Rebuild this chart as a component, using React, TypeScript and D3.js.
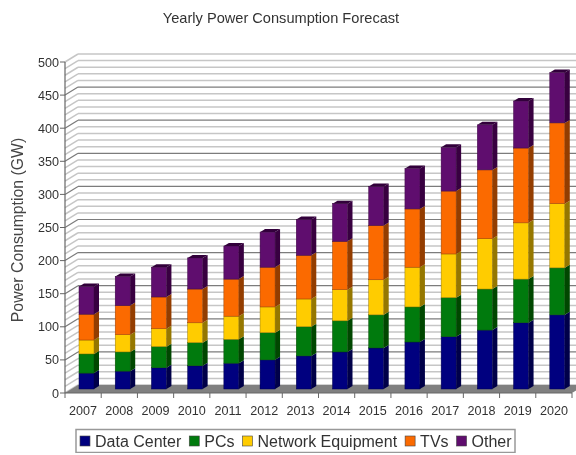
import React from "react";
import * as d3 from "d3";

const years = ["2007","2008","2009","2010","2011","2012","2013","2014","2015","2016","2017","2018","2019","2020"];
const seriesNames = ["Data Center","PCs","Network Equipment","TVs","Other"];
const dataCenter = [24,27,32,35,39,44,50,56,62,71,79,89,100,112];
const pcs = [29,29,32,35,36,41,44,47,50,53,59,62,66,71];
const network = [21,26,27,30,35,39,42,47,53,60,66,76,85,97];
const tvs = [39,44,48,51,56,60,66,73,82,88,95,104,113,122];
const other = [42,44,45,47,50,53,54,57,59,61,66,68,71,76];
const seriesValues = [dataCenter,pcs,network,tvs,other];
const colors = ["#00007f","#057a0a","#ffcc00","#fb6a04","#5f0a6e"];
const yTicks = [0,50,100,150,200,250,300,350,400,450,500];
const gridValues = d3.range(0,501,10);

const W = 576, H = 455;
const FONT = "'Liberation Sans', Arial, sans-serif";
const wallDx = 13, wallDy = -8;
const barInset = 14, barW = 15, sideDx = 5, sideDy = -3, barLift = 4;

const x = d3.scaleBand<string>().domain(years).range([65,572]).padding(0);
const y = d3.scaleLinear().domain([0,500]).range([393,62]);

const rows = years.map((yr,i)=>{
  const r: Record<string,any> = {year:yr};
  seriesNames.forEach((s,j)=>{ r[s]=seriesValues[j][i]; });
  return r;
});
const stacked = d3.stack<any>().keys(seriesNames)(rows);

function measure(t:string,size:number){
  const c = document.createElement("canvas").getContext("2d")!;
  c.font = `${size}px 'Liberation Sans'`;
  return c.measureText(t).width;
}
const poly = (p:[number,number][]) => p.map(q=>q.join(",")).join(" ");
const dark = (c:string,k:number)=> d3.rgb(c).darker(k).formatHex();

export default function App(){
  const xs = x.range();
  const legendSize = 16;
  let lx = 80;
  const legend = seriesNames.map((n,i)=>{
    const e = {n,c:colors[i],sx:lx,tx:lx+15};
    lx += 15 + measure(n,legendSize) + 8;
    return e;
  });
  return (
    <svg width={W} height={H} viewBox={`0 0 ${W} ${H}`} style={{position:"absolute",left:0,top:0,background:"#fff"}} fontFamily={FONT}>
      <defs>
        <filter id="soft" x="0" y="0" width="100%" height="100%"><feGaussianBlur stdDeviation="0.5"/></filter>
      </defs>
      <g filter="url(#soft)">
        <text x={281} y={23} textAnchor="middle" fontSize={14.6} fill="#333">Yearly Power Consumption Forecast</text>
        {gridValues.map(v=>{
          const major = v%50===0 && v!==500 && v!==0;
          const stroke = major ? "#7c7c7c" : "#c6c6c6";
          return <g key={v} stroke={stroke} strokeWidth={major?1.2:1.5} fill="none">
            <line x1={xs[0]} y1={y(v)} x2={xs[0]+wallDx} y2={y(v)+wallDy}/>
            <line x1={xs[0]+wallDx} y1={y(v)+wallDy} x2={W} y2={y(v)+wallDy}/>
          </g>;
        })}
        <polygon fill="#808080" points={poly([[xs[0],y(0)],[xs[0]+wallDx,y(0)+wallDy],[xs[1]+wallDx,y(0)+wallDy],[xs[1],y(0)]])}/>
        {years.map(yr=>{
          const bx = x(yr)!+barInset;
          return <g key={yr}>
            {stacked.map((s,j)=>{
              const d = s[years.indexOf(yr)];
              const y1 = y(d[1])-barLift, y0 = y(d[0])-barLift;
              const c = colors[j];
              const isTop = j===stacked.length-1;
              return <g key={j}>
                <rect x={bx} y={y1} width={barW} height={y0-y1} fill={c} stroke={dark(c,1.4)} strokeWidth={0.5}/>
                <polygon fill={dark(c,1.5)} points={poly([[bx+barW,y1],[bx+barW+sideDx,y1+sideDy],[bx+barW+sideDx,y0+sideDy],[bx+barW,y0]])}/>
                {isTop && <polygon fill={dark(c,1.8)} points={poly([[bx,y1],[bx+sideDx,y1+sideDy],[bx+barW+sideDx,y1+sideDy],[bx+barW,y1]])}/>}
              </g>;
            })}
          </g>;
        })}
        <line x1={xs[0]} y1={y(500)} x2={xs[0]} y2={y(0)} stroke="#666" strokeWidth={1.2}/>
        <line x1={xs[0]} y1={y(0)} x2={xs[1]} y2={y(0)} stroke="#666" strokeWidth={1.2}/>
        {yTicks.map(v=><g key={v}>
          <line x1={xs[0]-5} y1={y(v)} x2={xs[0]} y2={y(v)} stroke="#666"/>
          <text x={xs[0]-6} y={y(v)+4.5} textAnchor="end" fontSize={12.6} fill="#333">{v}</text>
        </g>)}
        {years.map(yr=><g key={yr}>
          <line x1={x(yr)!+x.bandwidth()} y1={y(0)} x2={x(yr)!+x.bandwidth()} y2={y(0)+5} stroke="#666"/>
          <text x={x(yr)!+x.bandwidth()/2} y={414.5} textAnchor="middle" fontSize={12.6} fill="#333">{yr}</text>
        </g>)}
        <line x1={xs[0]} y1={y(0)} x2={xs[0]} y2={y(0)+5} stroke="#666"/>
        <text transform="translate(23,230) rotate(-90)" textAnchor="middle" fontSize={15.8} fill="#444">Power Consumption (GW)</text>
        <rect x={76} y={429.5} width={439} height={23} fill="#fff" stroke="#999" strokeWidth={1.5}/>
        {legend.map(l=><g key={l.n}>
          <rect x={l.sx} y={436} width={10} height={10} fill={l.c} stroke="#444" strokeWidth={0.6}/>
          <text x={l.tx} y={447} fontSize={legendSize} fill="#333">{l.n}</text>
        </g>)}
      </g>
    </svg>
  );
}
